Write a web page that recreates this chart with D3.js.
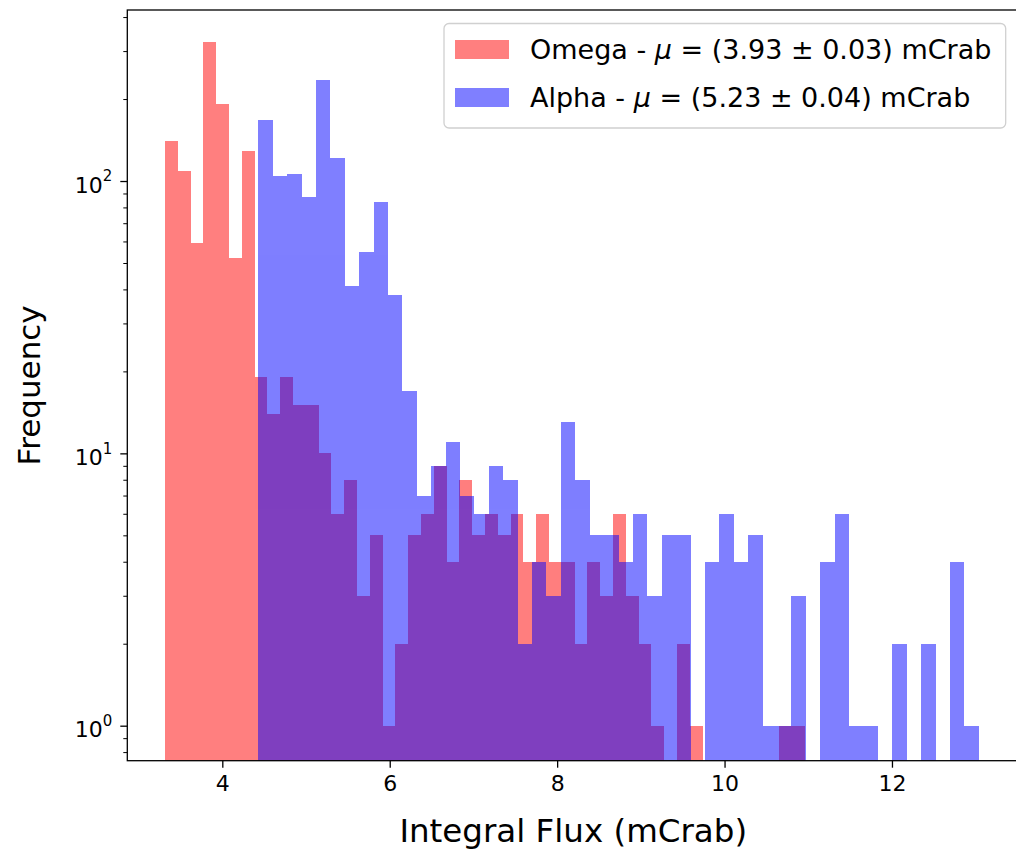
<!DOCTYPE html>
<html>
<head>
<meta charset="utf-8">
<script src="https://cdn.jsdelivr.net/npm/d3@7"></script>
<style>
  body { margin: 0; background: #fff; }
  svg { display: block; font-family: 'DejaVu Sans', sans-serif; }
</style>
</head>
<body>
<script>
// histogram counts, 50 bins per series
const omegaCounts = [140, 109, 59, 324, 191, 52, 129, 19, 14, 19,
  15, 15, 10, 6, 8, 3, 5, 1, 2, 5,
  6, 9, 4, 8, 5, 6, 5, 6, 4, 6,
  4, 4, 2, 4, 3, 6, 3, 2, 1, 0,
  2, 1, 0, 0, 0, 0, 0, 0, 1, 1];
const alphaCounts = [168, 104, 106, 87, 234, 122, 41, 55, 84, 38,
  17, 7, 9, 11, 7, 6, 9, 8, 2, 4,
  3, 13, 8, 5, 5, 4, 6, 3, 5, 5,
  0, 4, 6, 4, 5, 1, 1, 3, 0, 4,
  6, 1, 1, 0, 2, 0, 2, 0, 4, 1];
// data range (mCrab) of each histogram
const omegaRange = [3.315, 10.962];
const alphaRange = [4.430, 13.037];
const xTicks = [4, 6, 8, 10, 12];
const yMajor = [1, 10, 100];
const yMinor = [0.8, 0.9, 2, 3, 4, 5, 6, 7, 8, 9, 20, 30, 40, 50, 60, 70, 80, 90, 200, 300, 400];
const legendLabels = [
  {name: 'Omega', mu: '3.93', err: '0.03'},
  {name: 'Alpha', mu: '5.23', err: '0.04'}
];

const width = 1016, height = 849;
const plotLeft = 127.3, plotRight = 1019.2, plotTop = 10, plotBottom = 760.7;

const x = d3.scaleLinear().domain([2.865, 13.52]).range([plotLeft, plotRight]);
const y = d3.scaleLog().domain([0.7438, 424.6]).range([plotBottom, plotTop]);

const svg = d3.select('body').append('svg')
  .attr('width', width)
  .attr('height', height);

svg.append('defs').append('clipPath').attr('id', 'plot')
  .append('rect')
  .attr('x', plotLeft).attr('y', plotTop)
  .attr('width', plotRight - plotLeft).attr('height', plotBottom - plotTop);

function bins(counts, range) {
  const step = (range[1] - range[0]) / counts.length;
  return counts.map((c, i) => ({
    x0: range[0] + i * step,
    x1: range[0] + (i + 1) * step,
    count: c
  })).filter(d => d.count > 0);
}

const series = [
  {counts: omegaCounts, range: omegaRange, color: 'red'},
  {counts: alphaCounts, range: alphaRange, color: 'blue'}
];

const plot = svg.append('g').attr('clip-path', 'url(#plot)');

series.forEach(s => {
  plot.append('g')
    .attr('opacity', 0.5)
    .selectAll('rect')
    .data(bins(s.counts, s.range))
    .enter()
    .append('rect')
    .attr('x', d => x(d.x0))
    .attr('width', d => x(d.x1) - x(d.x0))
    .attr('y', d => y(d.count))
    .attr('height', d => plotBottom - y(d.count))
    .attr('fill', s.color)
    .attr('shape-rendering', 'crispEdges');
});

// x axis
const xAxis = svg.append('g')
  .attr('transform', 'translate(0,' + plotBottom + ')')
  .call(d3.axisBottom(x).tickValues(xTicks).tickSize(7).tickPadding(8).tickFormat(d3.format('d')));
xAxis.select('.domain').remove();
xAxis.selectAll('line').attr('stroke', '#000').attr('stroke-width', 1.3);
xAxis.selectAll('text').attr('font-size', 22).attr('fill', '#000')
  .attr('font-family', 'DejaVu Sans');

// y axis minor
const yMinorAxis = svg.append('g')
  .attr('transform', 'translate(' + plotLeft + ',0)')
  .call(d3.axisLeft(y).tickValues(yMinor).tickSize(4).tickFormat(''));
yMinorAxis.select('.domain').remove();
yMinorAxis.selectAll('line').attr('stroke', '#000').attr('stroke-width', 1);

// y axis major
const yAxis = svg.append('g')
  .attr('transform', 'translate(' + plotLeft + ',0)')
  .call(d3.axisLeft(y).tickValues(yMajor).tickSize(7).tickPadding(8).tickFormat(''));
yAxis.select('.domain').remove();
yAxis.selectAll('line').attr('stroke', '#000').attr('stroke-width', 1.3);
yAxis.selectAll('.tick text')
  .attr('font-size', 22).attr('fill', '#000')
  .attr('font-family', 'DejaVu Sans')
  .attr('dy', '0.5em')
  .each(function (d) {
    const t = d3.select(this);
    t.append('tspan').text('10');
    t.append('tspan')
      .attr('font-size', 15)
      .attr('dy', '-0.75em')
      .text(Math.round(Math.log10(d)));
  });

// frame
svg.append('rect')
  .attr('x', plotLeft).attr('y', plotTop)
  .attr('width', plotRight - plotLeft).attr('height', plotBottom - plotTop)
  .attr('fill', 'none')
  .attr('stroke', '#000')
  .attr('stroke-width', 1.3);

// axis labels
svg.append('text')
  .attr('x', (plotLeft + plotRight) / 2)
  .attr('y', 842)
  .attr('text-anchor', 'middle')
  .attr('font-size', 32.5)
  .text('Integral Flux (mCrab)');

svg.append('text')
  .attr('transform', 'translate(40,' + ((plotTop + plotBottom) / 2) + ') rotate(-90)')
  .attr('text-anchor', 'middle')
  .attr('font-size', 31)
  .text('Frequency');

// legend
const legend = svg.append('g').attr('transform', 'translate(444,23.5)');
legend.append('rect')
  .attr('width', 561.7).attr('height', 104.5)
  .attr('rx', 5)
  .attr('fill', '#fff')
  .attr('fill-opacity', 0.8)
  .attr('stroke', '#d0d0d0')
  .attr('stroke-width', 1.3);

const item = legend.selectAll('g.item')
  .data(legendLabels)
  .enter()
  .append('g')
  .attr('class', 'item')
  .attr('transform', (d, i) => 'translate(0,' + (i * 48) + ')');

item.append('rect')
  .attr('x', 11).attr('y', 16.5)
  .attr('width', 54).attr('height', 19)
  .attr('fill', (d, i) => series[i].color)
  .attr('opacity', 0.5);

const label = item.append('text')
  .attr('x', 86).attr('y', 35.5)
  .attr('font-size', 27);
label.append('tspan').text(d => d.name + ' - ');
label.append('tspan').attr('font-style', 'italic').text('\u03bc');
label.append('tspan').text(d => ' = (' + d.mu + ' \u00b1 ' + d.err + ') mCrab');
</script>
</body>
</html>
